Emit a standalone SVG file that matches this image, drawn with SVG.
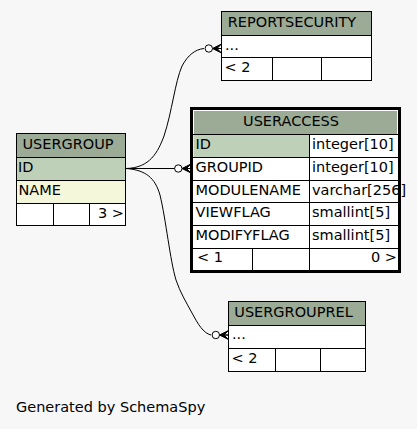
<svg xmlns="http://www.w3.org/2000/svg" width="417" height="429" viewBox="0 0 417 429">
<style>
text{font-family:"DejaVu Sans","Liberation Sans",sans-serif;font-size:14.5px;fill:#000}
.hd{fill:#9bab96}
.pk{fill:#bed1b8}
.ix{fill:#f4f7da}
.rw{fill:#ffffff}
.bg{fill:#f7f7f7}
.cell{stroke:#000;stroke-width:1}
.ln{stroke:#000;stroke-width:1;fill:none}
.edge{stroke:#000;stroke-width:1;fill:none}
.c{text-anchor:middle}
.e{text-anchor:end}
</style>
<defs>
<g id="crowodot">
<polygon points="-9,0 0,-4.5 -4.5,0 0,0 -4.5,0 0,4.5" fill="#000" stroke="#000" stroke-width="1" stroke-linejoin="miter"/>
<circle cx="-12.7" cy="0" r="3.7" fill="#ffffff" stroke="#000" stroke-width="1"/>
</g>
</defs>
<rect x="0" y="0" width="417" height="429" class="bg"/>

<g id="connectors">
<path class="edge" d="M126,168.5 L175,168.5"/>
<path class="edge" d="M126,168.5 C150,168 158,152 164,136 C172,112 175,82 182,66 C188,55 195,49.5 204,48.5"/>
<path class="edge" d="M126,168.5 C146,170 155,178 160,195 C166,220 170,260 176,280 C180,292 186,302 192,313 C198,324 203,333 211,335"/>
<use href="#crowodot" transform="translate(191,168.5)"/>
<use href="#crowodot" transform="translate(221.5,48.5)"/>
<use href="#crowodot" transform="translate(228.5,335)"/>
</g>

<g id="USERGROUP">
<rect x="16.5" y="133.5" width="109" height="24" class="hd cell"/>
<rect x="16.5" y="157.5" width="109" height="23" class="pk cell"/>
<rect x="16.5" y="180.5" width="109" height="23" class="ix cell"/>
<rect x="16.5" y="203.5" width="109" height="22" class="rw cell"/>
<line x1="53.5" y1="203.5" x2="53.5" y2="225.5" class="ln"/>
<line x1="89.5" y1="203.5" x2="89.5" y2="225.5" class="ln"/>
<text x="68" y="148.5" class="c">USERGROUP</text>
<text x="18" y="172">ID</text>
<text x="18.5" y="195">NAME</text>
<text x="124" y="217.5" class="e">3 &gt;</text>
</g>

<g id="REPORTSECURITY">
<rect x="221.5" y="11.5" width="150" height="24" class="hd cell"/>
<rect x="221.5" y="35.5" width="150" height="22" class="rw cell"/>
<rect x="221.5" y="57.5" width="150" height="23" class="rw cell"/>
<line x1="272.5" y1="57.5" x2="272.5" y2="80.5" class="ln"/>
<line x1="321.5" y1="57.5" x2="321.5" y2="80.5" class="ln"/>
<text x="292" y="26.5" class="c">REPORTSECURITY</text>
<text x="225" y="49.5">...</text>
<text x="224.5" y="72">&lt; 2</text>
</g>

<g id="USERACCESS">
<rect x="193" y="110" width="205" height="160" class="rw"/>
<rect x="194" y="111" width="203" height="23.5" class="hd"/>
<rect x="193.5" y="134.5" width="116" height="23" class="pk"/>
<line x1="193" y1="134.5" x2="398" y2="134.5" class="ln"/>
<line x1="193" y1="157.5" x2="398" y2="157.5" class="ln"/>
<line x1="193" y1="180.5" x2="398" y2="180.5" class="ln"/>
<line x1="193" y1="202.5" x2="398" y2="202.5" class="ln"/>
<line x1="193" y1="225.5" x2="398" y2="225.5" class="ln"/>
<line x1="193" y1="248.5" x2="398" y2="248.5" class="ln"/>
<line x1="309.5" y1="134.5" x2="309.5" y2="270" class="ln"/>
<line x1="252.5" y1="248.5" x2="252.5" y2="270" class="ln"/>
<text x="291" y="125.5" class="c">USERACCESS</text>
<text x="195.5" y="148.5">ID</text>
<text x="312" y="148.5">integer[10]</text>
<text x="195.5" y="171.5">GROUPID</text>
<text x="312" y="171.5">integer[10]</text>
<text x="195.5" y="194.5">MODULENAME</text>
<text x="312" y="194.5">varchar[256]</text>
<text x="195.5" y="217">VIEWFLAG</text>
<text x="312" y="217">smallint[5]</text>
<text x="195.5" y="239.5">MODIFYFLAG</text>
<text x="312" y="239.5">smallint[5]</text>
<text x="197" y="262">&lt; 1</text>
<text x="397" y="262" class="e">0 &gt;</text>
<rect x="191.5" y="108.5" width="208" height="163" fill="none" stroke="#000" stroke-width="3"/>
</g>

<g id="USERGROUPREL">
<rect x="228.5" y="301.5" width="137" height="24" class="hd cell"/>
<rect x="228.5" y="325.5" width="137" height="23" class="rw cell"/>
<rect x="228.5" y="348.5" width="137" height="23" class="rw cell"/>
<line x1="275.5" y1="348.5" x2="275.5" y2="371.5" class="ln"/>
<line x1="320.5" y1="348.5" x2="320.5" y2="371.5" class="ln"/>
<text x="293.5" y="316.5" class="c">USERGROUPREL</text>
<text x="232" y="339">...</text>
<text x="231.5" y="363.3">&lt; 2</text>
</g>

<text x="16" y="411.5">Generated by SchemaSpy</text>
</svg>
